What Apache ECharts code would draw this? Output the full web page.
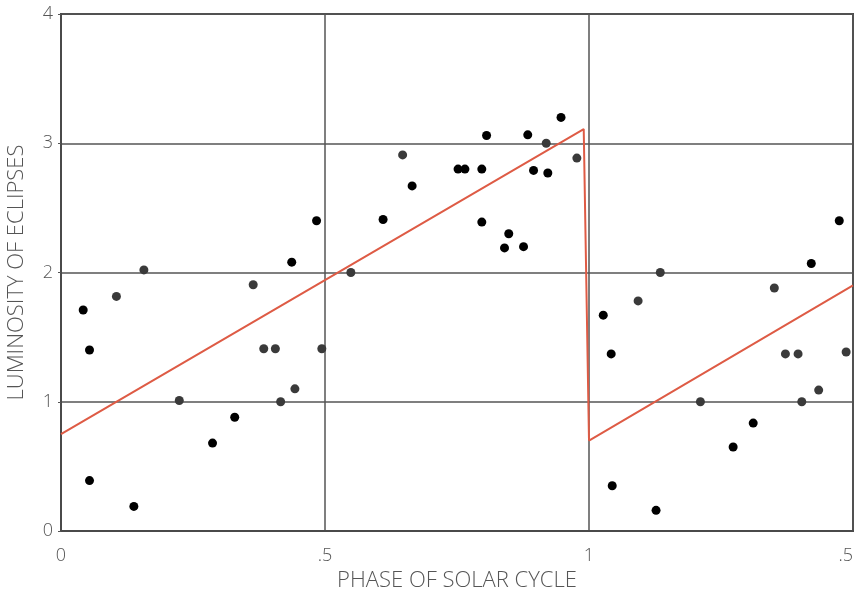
<!DOCTYPE html>
<html>
<head>
<meta charset="utf-8">
<script src="https://cdn.jsdelivr.net/npm/echarts@6/dist/echarts.min.js"></script>
<style>
html,body{margin:0;padding:0;background:#fff;}
#chart{width:855px;height:591px;}
</style>
</head>
<body>
<div id="chart"></div>
<script>
// Dark (black) eclipse observations: [phase, luminosity]
const blackPoints = [
  [0.042, 1.71], [0.054, 1.40], [0.054, 0.39], [0.138, 0.19],
  [0.287, 0.68], [0.329, 0.88], [0.437, 2.08], [0.484, 2.40],
  [0.610, 2.41], [0.665, 2.67], [0.752, 2.80], [0.765, 2.80],
  [0.797, 2.80], [0.806, 3.06], [0.797, 2.39], [0.848, 2.30],
  [0.840, 2.19], [0.876, 2.20], [0.884, 3.065], [0.895, 2.79],
  [0.922, 2.77], [0.947, 3.20],
  [1.027, 1.67], [1.042, 1.37], [1.044, 0.35], [1.127, 0.16],
  [1.273, 0.65], [1.311, 0.835], [1.421, 2.07], [1.474, 2.40]
];
// Grey eclipse observations
const greyPoints = [
  [0.105, 1.815], [0.157, 2.02], [0.224, 1.01], [0.364, 1.905],
  [0.384, 1.41], [0.406, 1.41], [0.416, 1.00], [0.443, 1.10],
  [0.494, 1.41], [0.549, 2.00], [0.647, 2.91], [0.919, 3.00],
  [0.977, 2.885],
  [1.093, 1.78], [1.135, 2.00], [1.211, 1.00], [1.351, 1.88],
  [1.372, 1.37], [1.396, 1.37], [1.403, 1.00], [1.435, 1.09],
  [1.487, 1.385]
];
// Sawtooth trend line vertices
const trendLine = [[0, 0.75], [0.99, 3.11], [1.0, 0.70], [1.5, 1.90]];
// Tick labels
const xTickLabels = {0: '0', 0.5: '.5', 1: '1', 1.5: '.5'};
const yTickLabels = ['0', '1', '2', '3', '4'];

const FONT = 'Open Sans';
const chart = echarts.init(document.getElementById('chart'), null, {renderer: 'canvas'});
chart.setOption({
  animation: false,
  backgroundColor: '#ffffff',
  grid: {left: 61, right: 2, top: 14, bottom: 60, outerBoundsMode: 'none', containLabel: false,
    show: true, borderColor: '#4a4a4a', borderWidth: 2, backgroundColor: 'transparent'},
  xAxis: {
    type: 'value', min: 0, max: 1.5, interval: 0.5,
    name: 'PHASE OF SOLAR CYCLE', nameLocation: 'middle', nameGap: 36,
    nameTextStyle: {fontFamily: FONT, fontWeight: 300, fontSize: 22, color: '#555'},
    axisLine: {show: true, lineStyle: {color: '#4a4a4a', width: 2}},
    axisTick: {show: false},
    axisLabel: {
      fontFamily: FONT, fontWeight: 300, fontSize: 18, color: '#555', margin: 16,
      alignMaxLabel: 'right',
      formatter: v => xTickLabels[Math.round(v * 10) / 10] ?? ''
    },
    splitLine: {show: true, lineStyle: {color: '#555', width: 1.5}}
  },
  yAxis: {
    type: 'value', min: 0, max: 4, interval: 1,
    name: 'LUMINOSITY OF ECLIPSES', nameLocation: 'middle', nameGap: 33,
    nameTextStyle: {fontFamily: FONT, fontWeight: 300, fontSize: 22, color: '#555'},
    axisLine: {show: true, lineStyle: {color: '#4a4a4a', width: 2}},
    axisTick: {show: true, length: 3, lineStyle: {color: '#555'}},
    axisLabel: {
      fontFamily: FONT, fontWeight: 300, fontSize: 18, color: '#555', margin: 8,
      formatter: v => yTickLabels[Math.round(v)] ?? ''
    },
    splitLine: {show: true, lineStyle: {color: '#555', width: 1.5}}
  },
  series: [
    {
      type: 'line', data: trendLine, showSymbol: false, symbol: 'none',
      lineStyle: {color: '#de5b45', width: 2}, z: 2
    },
    {
      type: 'scatter', data: greyPoints, symbolSize: 9,
      itemStyle: {color: '#3a3a3a', opacity: 1}, z: 3
    },
    {
      type: 'scatter', data: blackPoints, symbolSize: 9,
      itemStyle: {color: '#000000', opacity: 1}, z: 4
    }
  ]
});
</script>
</body>
</html>
